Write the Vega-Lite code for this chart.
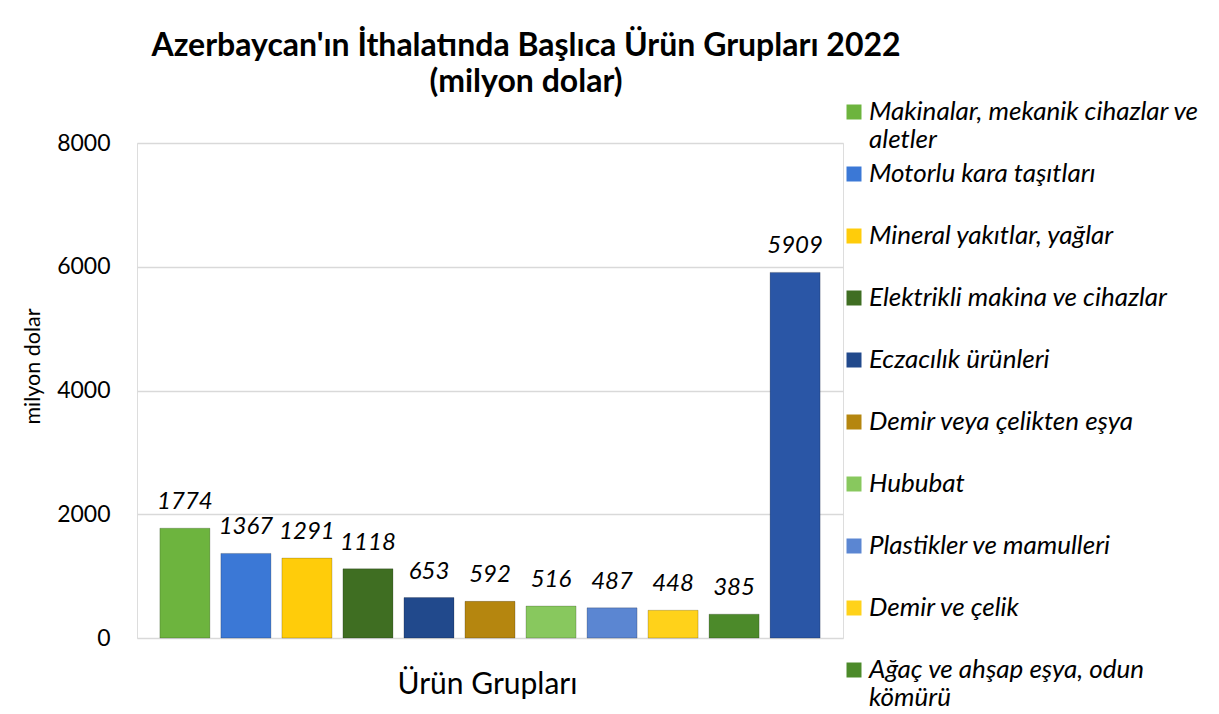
{
  "$schema": "https://vega.github.io/schema/vega-lite/v6.json",
  "width": 706,
  "height": 495,
  "autosize": {"type": "none"},
  "padding": {"left": 137, "top": 143, "right": 376, "bottom": 76},
  "background": "white",
  "title": {
    "text": ["Azerbaycan'ın İthalatında Başlıca Ürün Grupları 2022", "(milyon dolar)"],
    "font": "Lato",
    "fontSize": 32,
    "fontWeight": "bold",
    "color": "black",
    "anchor": "middle",
    "dx": 36,
    "offset": 0,
    "lineHeight": 36
  },
  "data": {
    "values": [
      {"cat": "Makinalar, mekanik cihazlar ve aletler", "value": 1774},
      {"cat": "Motorlu kara taşıtları", "value": 1367},
      {"cat": "Mineral yakıtlar, yağlar", "value": 1291},
      {"cat": "Elektrikli makina ve cihazlar", "value": 1118},
      {"cat": "Eczacılık ürünleri", "value": 653},
      {"cat": "Demir veya çelikten eşya", "value": 592},
      {"cat": "Hububat", "value": 516},
      {"cat": "Plastikler ve mamulleri", "value": 487},
      {"cat": "Demir ve çelik", "value": 448},
      {"cat": "Ağaç ve ahşap eşya, odun kömürü", "value": 385},
      {"cat": "Diğer", "value": 5909}
    ]
  },
  "encoding": {
    "x": {
      "field": "cat",
      "type": "nominal",
      "sort": null,
      "scale": {"paddingInner": 0.18, "paddingOuter": 0.375},
      "axis": {
        "labels": false,
        "ticks": false,
        "domain": false,
        "title": "Ürün Grupları",
        "titleFont": "Lato",
        "titleFontSize": 30,
        "titleFontWeight": "normal",
        "titleColor": "black",
        "titlePadding": 31,
        "titleX": 350
      }
    },
    "y": {
      "field": "value",
      "type": "quantitative",
      "scale": {"domain": [0, 8000]},
      "axis": {
        "values": [0, 2000, 4000, 6000, 8000],
        "format": "d",
        "grid": true,
        "gridColor": "#D9D9D9",
        "gridWidth": 1.5,
        "domain": false,
        "ticks": false,
        "labelFont": "Lato",
        "labelFontSize": 23,
        "labelColor": "black",
        "labelPadding": 27,
        "title": "milyon dolar",
        "titleFont": "Lato",
        "titleFontSize": 21.5,
        "titleFontWeight": "normal",
        "titleColor": "black",
        "titleAngle": -90,
        "titleX": -104,
        "titleY": 223,
        "titleAlign": "center",
        "titleBaseline": "middle"
      }
    }
  },
  "layer": [
    {
      "mark": {"type": "bar", "stroke": "#000000", "strokeOpacity": 0.2, "strokeWidth": 1},
      "encoding": {
        "color": {
          "field": "cat",
          "type": "nominal",
          "scale": {
            "domain": [
              "Makinalar, mekanik cihazlar ve aletler",
              "Motorlu kara taşıtları",
              "Mineral yakıtlar, yağlar",
              "Elektrikli makina ve cihazlar",
              "Eczacılık ürünleri",
              "Demir veya çelikten eşya",
              "Hububat",
              "Plastikler ve mamulleri",
              "Demir ve çelik",
              "Ağaç ve ahşap eşya, odun kömürü",
              "Diğer"
            ],
            "range": ["#6DB43E", "#3B78D6", "#FFCC0A", "#3F6E22", "#21498C", "#B5860F", "#88C85E", "#5B86D2", "#FFD21A", "#4C8A2A", "#2A56A6"]
          },
          "legend": {
            "title": null,
            "orient": "none",
            "legendX": 704,
            "legendY": -44,
            "labelFont": "Lato",
            "labelFontSize": 26,
            "labelFontStyle": "italic",
            "labelColor": "black",
            "labelLimit": 400,
            "labelOffset": 2,
            "symbolType": "square",
            "symbolSize": 225,
            "symbolStrokeWidth": 0,
            "symbolOpacity": 1,
            "gridAlign": "all",
            "rowPadding": 8,
            "labelExpr": "datum.label == 'Makinalar, mekanik cihazlar ve aletler' ? ['Makinalar, mekanik cihazlar ve', 'aletler'] : datum.label == 'Ağaç ve ahşap eşya, odun kömürü' ? ['Ağaç ve ahşap eşya, odun', 'kömürü'] : datum.label"
          }
        }
      }
    },
    {
      "mark": {"type": "text", "dy": -26, "baseline": "middle", "font": "Lato", "fontSize": 24, "fontStyle": "italic", "color": "black"},
      "encoding": {
        "text": {"field": "value", "type": "quantitative", "format": "d"}
      }
    }
  ]
}
